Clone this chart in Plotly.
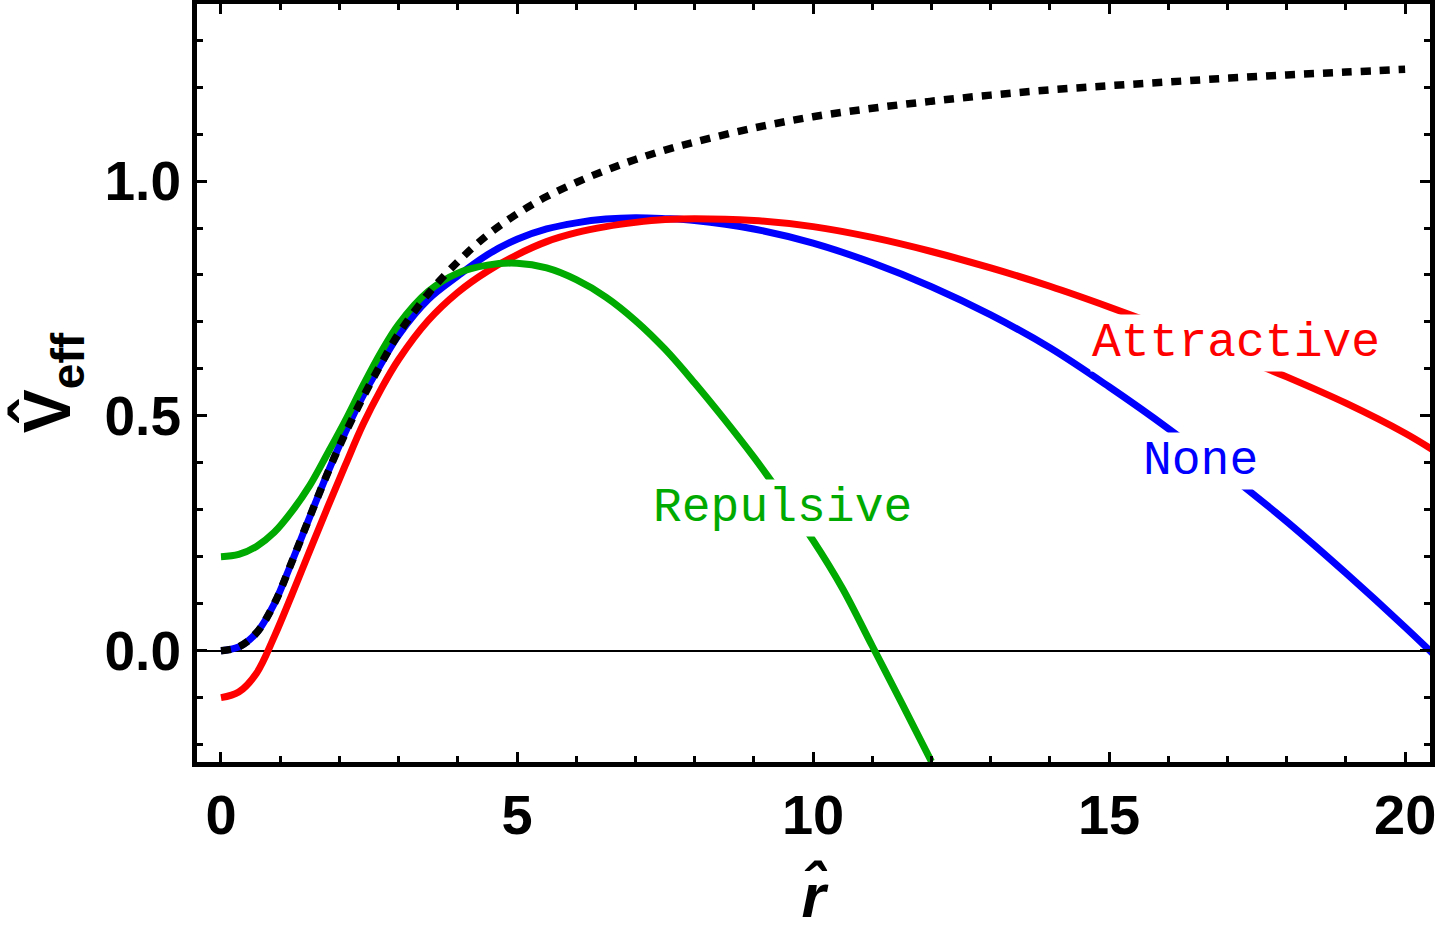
import plotly.graph_objects as go

# Effective potential curves
r_none = [0, 0.3, 0.6, 0.9, 1.2, 1.5, 1.8, 2.1, 2.4, 2.7, 3.0, 3.5, 4.0, 4.5, 5.0, 5.5, 6.0,
          6.5, 7.0, 7.5, 8.0, 9.0, 10.0, 11.0, 12.0, 13.0, 14.0, 15.0, 16.0, 17.0, 18.0,
          19.0, 20.0, 20.5]
v_none = [0.0, 0.008, 0.038, 0.1, 0.19, 0.285, 0.378, 0.465, 0.543, 0.61, 0.672, 0.748,
          0.798, 0.843, 0.876, 0.898, 0.911, 0.919, 0.922, 0.92, 0.916, 0.898, 0.868, 0.826,
          0.775, 0.715, 0.645, 0.562, 0.473, 0.377, 0.275, 0.165, 0.05, -0.01]

r_attr = [0, 0.3, 0.6, 0.9, 1.2, 1.5, 1.8, 2.1, 2.4, 2.7, 3.0, 3.5, 4.0, 4.5, 5.0, 5.5, 6.0,
          6.5, 7.0, 7.5, 8.0, 9.0, 10.0, 11.0, 12.0, 13.0, 14.0, 15.0, 16.0, 17.0, 18.0,
          19.0, 20.0, 20.5]
v_attr = [-0.1, -0.088, -0.048, 0.03, 0.12, 0.213, 0.305, 0.395, 0.482, 0.556, 0.62, 0.703,
          0.763, 0.808, 0.843, 0.871, 0.89, 0.903, 0.912, 0.918, 0.92, 0.916, 0.903, 0.88,
          0.85, 0.815, 0.776, 0.732, 0.685, 0.635, 0.583, 0.527, 0.463, 0.425]

r_rep = [0, 0.3, 0.6, 0.9, 1.2, 1.5, 1.8, 2.1, 2.4, 2.7, 3.0, 3.5, 4.0, 4.5, 5.0, 5.5, 6.0,
         6.5, 7.0, 7.5, 8.0, 8.5, 9.0, 9.5, 10.0, 10.5, 11.0, 11.5, 12.0]
v_rep = [0.2, 0.205, 0.222, 0.252, 0.297, 0.352, 0.42, 0.49, 0.565, 0.635, 0.695, 0.765,
         0.804, 0.821, 0.825, 0.815, 0.79, 0.753, 0.703, 0.642, 0.57, 0.493, 0.412, 0.325,
         0.235, 0.132, 0.01, -0.112, -0.236]

r_newt = [0, 0.3, 0.6, 0.9, 1.2, 1.5, 1.8, 2.1, 2.4, 2.7, 3.0, 3.5, 4.0, 4.5, 5.0, 5.5, 6.0,
          6.5, 7.0, 7.5, 8.0, 9.0, 10.0, 11.0, 12.0, 13.0, 14.0, 15.0, 16.0, 17.0, 18.0,
          19.0, 20.0]
v_newt = [0.0, 0.008, 0.038, 0.1, 0.19, 0.285, 0.378, 0.463, 0.54, 0.61, 0.675, 0.76,
          0.828, 0.885, 0.93, 0.967, 0.997, 1.023, 1.046, 1.066, 1.083, 1.113, 1.137, 1.155,
          1.17, 1.183, 1.194, 1.203, 1.211, 1.219, 1.226, 1.232, 1.238]

labels = ["Attractive", "None", "Repulsive"]
label_r = [17.15, 16.54, 9.48]
label_v = [0.656, 0.404, 0.304]
label_colors = ["#FF0000", "#0000FF", "#00AA00"]

fig = go.Figure()

# draw order matches the reference: blue under red under green, dotted on top
fig.add_trace(go.Scatter(x=r_none, y=v_none, mode="lines",
                         line=dict(color="#0000FF", width=7, shape="spline")))
fig.add_trace(go.Scatter(x=r_attr, y=v_attr, mode="lines",
                         line=dict(color="#FF0000", width=7, shape="spline")))
fig.add_trace(go.Scatter(x=r_rep, y=v_rep, mode="lines",
                         line=dict(color="#00AA00", width=7, shape="spline")))
fig.add_trace(go.Scatter(x=r_newt, y=v_newt, mode="lines",
                         line=dict(color="black", width=7.5, shape="spline", dash="10px,9px")))

for txt, xr, yv, col in zip(labels, label_r, label_v, label_colors):
    fig.add_annotation(x=xr, y=yv, text=txt, showarrow=False,
                       font=dict(family="Liberation Mono", size=48, color=col),
                       bgcolor="white", borderpad=1)

fig.update_xaxes(range=[-0.405, 20.42], tickvals=[0, 5, 10, 15, 20], automargin=False,
                 ticks="inside", ticklen=10, tickwidth=3, tickcolor="black",
                 minor=dict(tick0=0, dtick=1, ticks="inside", ticklen=6, tickwidth=2.5,
                            tickcolor="black"),
                 showline=True, linewidth=5, linecolor="black", mirror="allticks",
                 showgrid=False, zeroline=False,
                 tickfont=dict(family="Liberation Sans", size=56, color="black",
                               weight="bold"),
                 title=dict(text="<i>r̂</i>", standoff=30,
                            font=dict(family="Liberation Sans", size=62, color="black",
                                      weight="bold")))

fig.update_yaxes(range=[-0.237, 1.377], tickvals=[0, 0.5, 1.0], automargin=False,
                 ticktext=["0.0", "0.5", "1.0"],
                 ticks="inside", ticklen=10, tickwidth=3, tickcolor="black",
                 minor=dict(tick0=0, dtick=0.1, ticks="inside", ticklen=6, tickwidth=2.5,
                            tickcolor="black"),
                 showline=True, linewidth=5, linecolor="black", mirror="allticks",
                 showgrid=False, zeroline=True, zerolinecolor="black", zerolinewidth=1.8,
                 tickfont=dict(family="Liberation Sans", size=55, color="black",
                               weight="bold"),
                 title=dict(text="V̂<sub>eff</sub>", standoff=14,
                            font=dict(family="Liberation Sans", size=66, color="black",
                                      weight="bold")))

fig.update_layout(width=1440, height=934, showlegend=False,
                  plot_bgcolor="white", paper_bgcolor="white",
                  margin=dict(l=197, r=10, t=4, b=172))

# drop the default page margin so the figure sits at the window's corner
fig.write_html("out.html", config={"displayModeBar": False},
               post_script="document.body.style.margin = '0px';")
